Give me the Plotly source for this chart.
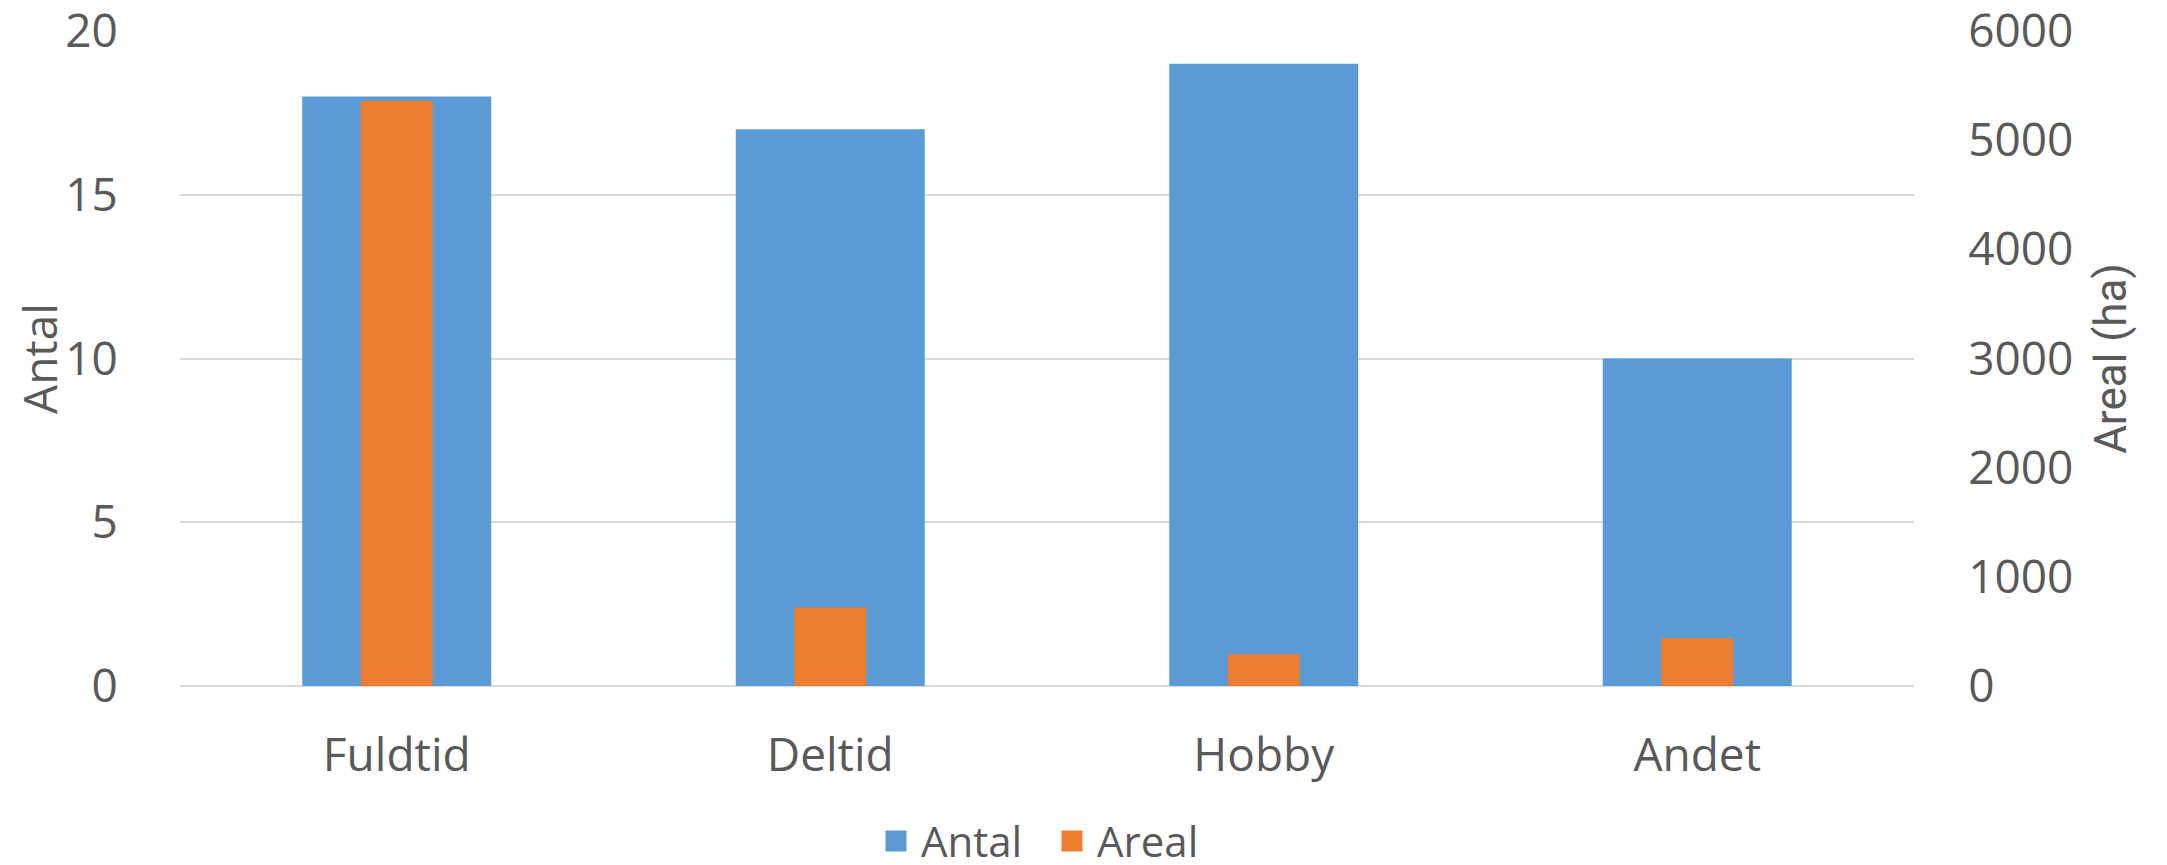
import plotly.graph_objects as go

categories = ["Fuldtid", "Deltid", "Hobby", "Andet"]
antal = [18, 17, 19, 10]
areal = [5360, 720, 290, 440]

TXT = "#595959"
FONT = "Open Sans"
CLEAR = "rgba(0,0,0,0)"
BLUE = "#5B9BD5"
ORANGE = "#ED7D31"

fig = go.Figure()
fig.add_trace(go.Bar(x=categories, y=antal, name="Antal", marker_color=BLUE,
                     marker_line_width=0, width=0.436, yaxis="y", showlegend=False,
                     legendgroup="antal"))
fig.add_trace(go.Bar(x=categories, y=areal, name="Areal", marker_color=ORANGE,
                     marker_line_width=0, width=0.166, yaxis="y2", showlegend=False,
                     legendgroup="areal"))
# legend entries with larger square swatches
for name, col, grp in [("Antal", BLUE, "antal"), ("Areal", ORANGE, "areal")]:
    fig.add_trace(go.Scatter(x=[None], y=[None], mode="markers", name=name,
                             legendgroup=grp, hoverinfo="skip",
                             marker=dict(symbol="square", size=16, color=col,
                                         line=dict(color=col, width=5))))

fig.update_layout(
    width=2159, height=857,
    margin=dict(l=172, r=253, t=23, b=179, autoexpand=False),
    plot_bgcolor="white", paper_bgcolor="white",
    barmode="overlay",
    font=dict(family=FONT, color=TXT, size=46),
    showlegend=True,
    legend=dict(orientation="h", x=0.5, xanchor="center", y=-0.237, yanchor="middle",
                font=dict(size=42, color=TXT), traceorder="normal", itemsizing="trace",
                itemwidth=40, entrywidth=121, entrywidthmode="pixels"),
    xaxis=dict(showgrid=False, showline=False, ticks="outside", ticklen=29, tickcolor=CLEAR,
               tickfont=dict(size=46), automargin=False),
    yaxis=dict(range=[0, 20], tickvals=[0, 5, 10, 15, 20], showgrid=True,
               gridcolor="#d9d9d9", gridwidth=1.5,
               zeroline=True, zerolinecolor="#d9d9d9", zerolinewidth=2,
               title=dict(text="Antal", font=dict(size=46), standoff=35),
               tickfont=dict(size=46), ticks="outside", ticklen=52, tickcolor=CLEAR,
               automargin=False, ticklabeloverflow="allow"),
    yaxis2=dict(range=[0, 6000], tickvals=[0, 1000, 2000, 3000, 4000, 5000, 6000],
                overlaying="y", side="right",
                showgrid=False, zeroline=False, automargin=False,
                ticks="outside", ticklen=44, tickcolor=CLEAR, ticklabeloverflow="allow",
                title=dict(text="Areal (ha)", font=dict(size=44, family="Roboto"), standoff=22),
                tickfont=dict(size=46)),
)
fig.write_html("out.html")
